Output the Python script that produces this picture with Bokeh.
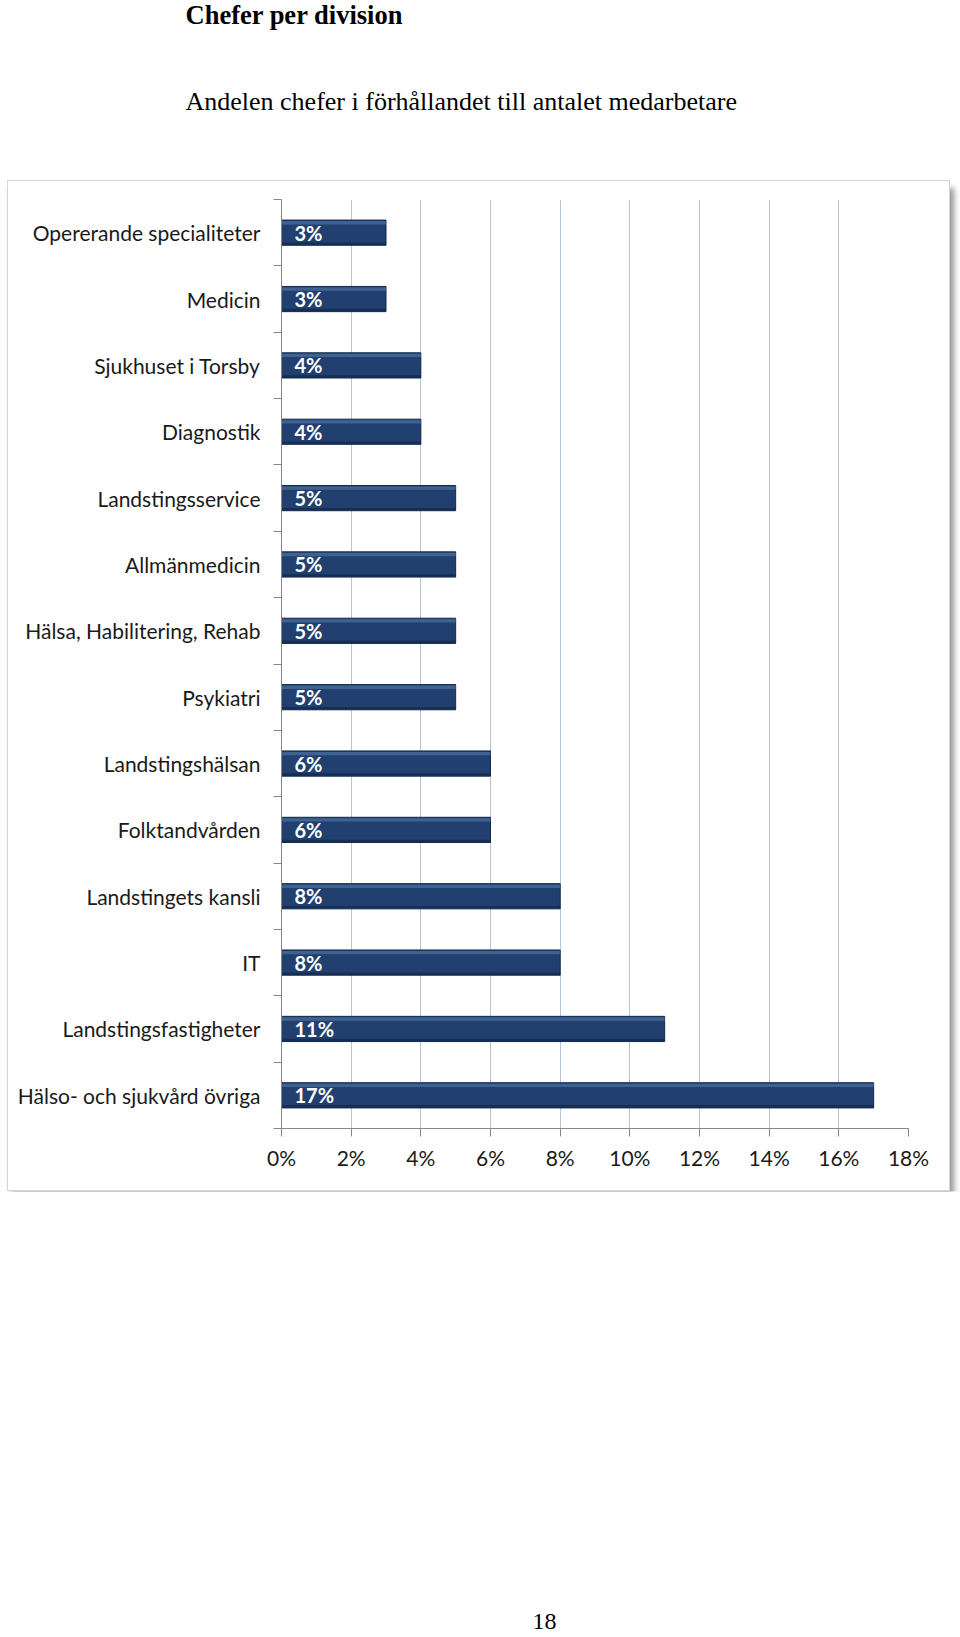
from bokeh.plotting import figure
from bokeh.layouts import column, row
from bokeh.models import (Range1d, FixedTicker, NumeralTickFormatter, Spacer,
                          ColumnDataSource, CustomJSTickFormatter)
from bokeh.core.properties import value
from bokeh.embed import file_html
from bokeh.resources import INLINE
from bokeh.transform import dodge

# ---- data ----
categories = [
    "Opererande specialiteter",
    "Medicin",
    "Sjukhuset i Torsby",
    "Diagnostik",
    "Landstingsservice",
    "Allmänmedicin",
    "Hälsa, Habilitering, Rehab",
    "Psykiatri",
    "Landstingshälsan",
    "Folktandvården",
    "Landstingets kansli",
    "IT",
    "Landstingsfastigheter",
    "Hälso- och sjukvård övriga",
]
shares_pct = [3, 3, 4, 4, 5, 5, 5, 5, 6, 6, 8, 8, 11, 17]
x_ticks_pct = [0, 2, 4, 6, 8, 10, 12, 14, 16, 18]
title_text = "Chefer per division"
subtitle_text = "Andelen chefer i förhållandet till antalet medarbetare"
page_number = "18"

# ---- derived ----
n = len(categories)
centers = [i + 0.5 for i in range(n)]
bounds = list(range(n + 1))
shares = [s / 100 for s in shares_pct]
bar_labels = [f"{s}%" for s in shares_pct]
x_ticks = [t / 100 for t in x_ticks_pct]

PAGE_W, PAGE_H = 960, 1637
HEAD_H = 180
BOX_X = 7
BOX_W, BOX_H = 943, 1011
FOOT_H = PAGE_H - HEAD_H - BOX_H - 2

SERIF = "Liberation Serif"
LABEL_FONT = "Lato"
AX = "#868686"


def blank(w, h):
    f = figure(width=w, height=h, output_backend="svg", toolbar_location=None,
               x_range=Range1d(0, w), y_range=Range1d(h, 0),
               x_axis_type=None, y_axis_type=None, min_border=0)
    f.outline_line_color = None
    f.xgrid.visible = False
    f.ygrid.visible = False
    return f


# ---- header ----
header = blank(PAGE_W, HEAD_H)
header.text(x=[185], y=[14], text=[title_text], text_font=value(SERIF),
            text_font_style="bold", text_font_size="26.5px", text_color="black",
            text_baseline="alphabetic", text_align="left")
header.text(x=[185], y=[101], text=[subtitle_text], text_font=value(SERIF),
            text_font_size="26px", text_color="black",
            text_baseline="alphabetic", text_align="left")

# ---- chart ----
p = figure(width=BOX_W, height=BOX_H, output_backend="svg", toolbar_location=None,
           title=None,
           x_range=Range1d(0, x_ticks[-1]), y_range=Range1d(n, 0),
           min_border_left=273, min_border_right=43,
           min_border_top=18, min_border_bottom=64)
p.outline_line_color = None
p.styles = {"border": "1px solid #D6D6D6",
            "box-shadow": "4px 8px 6px 0px rgba(0,0,0,0.42)"}

p.yaxis.ticker = FixedTicker(ticks=centers, minor_ticks=bounds)
p.yaxis.formatter = CustomJSTickFormatter(args=dict(names=categories),
                                          code="return names[Math.floor(tick)];")
p.yaxis.axis_line_color = AX
p.yaxis.major_tick_line_color = None
p.yaxis.major_tick_out = 0
p.yaxis.major_tick_in = 0
p.yaxis.minor_tick_line_color = AX
p.yaxis.minor_tick_out = 8
p.yaxis.minor_tick_in = 0
p.yaxis.major_label_standoff = 13
p.yaxis.major_label_text_font = LABEL_FONT
p.yaxis.major_label_text_font_size = "21px"
p.yaxis.major_label_text_color = "#1a1a1a"

p.xaxis.ticker = FixedTicker(ticks=x_ticks)
p.xaxis.formatter = NumeralTickFormatter(format="0%")
p.xaxis.axis_line_color = AX
p.xaxis.major_tick_line_color = AX
p.xaxis.major_tick_out = 8
p.xaxis.major_tick_in = 0
p.xaxis.minor_tick_line_color = None
p.xaxis.major_label_standoff = 8
p.xaxis.major_label_text_font = LABEL_FONT
p.xaxis.major_label_text_font_size = "21px"
p.xaxis.major_label_text_color = "#1a1a1a"

p.xgrid.ticker = FixedTicker(ticks=x_ticks)
p.xgrid.grid_line_color = "#B6C6DA"
p.ygrid.grid_line_color = None

src = ColumnDataSource(dict(y=centers, right=shares, label=bar_labels))

p.hbar(y="y", left=0, right="right", height=0.38, source=src,
       fill_color="#21406F", line_color="#132A4C", line_width=1)
p.hbar(y=dodge("y", -0.15, range=p.y_range), left=0, right="right", height=0.05,
       source=src, fill_color="#5B7DAB", fill_alpha=0.55, line_color=None)
p.hbar(y=dodge("y", 0.165, range=p.y_range), left=0, right="right", height=0.035,
       source=src, fill_color="#0F2242", fill_alpha=0.6, line_color=None)

p.text(x=0, y="y", text="label", source=src, x_offset=13,
       text_color="white", text_font=value(LABEL_FONT), text_font_style="bold",
       text_font_size="20px", text_baseline="middle", text_align="left")

# ---- footer ----
footer = blank(PAGE_W, FOOT_H)
footer.text(x=[544], y=[FOOT_H - 14], text=[page_number], text_font=value(SERIF),
            text_font_size="24px", text_color="black",
            text_baseline="alphabetic", text_align="center")

layout = column(header, row(Spacer(width=BOX_X, height=BOX_H), p), footer)

open("out.html", "w").write(file_html(layout, INLINE))
